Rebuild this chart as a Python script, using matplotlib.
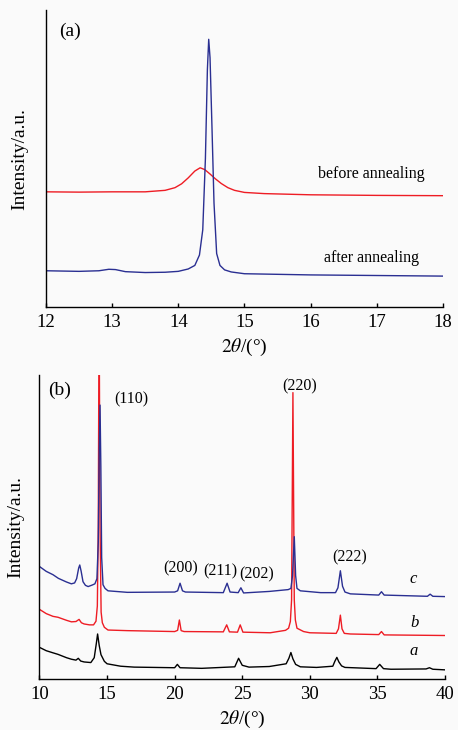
import numpy as np
import matplotlib
matplotlib.use('Agg')
import matplotlib.pyplot as plt

plt.rcParams['font.family'] = ['Liberation Serif', 'DejaVu Serif']
plt.rcParams['mathtext.fontset'] = 'stix'

# ---- panel (a): 12-18 deg, before / after annealing
a_before_x = [12.0, 12.5, 13.0, 13.5, 13.8, 13.95, 14.05, 14.15, 14.25, 14.33, 14.40,
              14.48, 14.56, 14.65, 14.75, 14.85, 15.0, 15.3, 16.0, 17.0, 18.0]
a_before_y = [38.8, 38.7, 38.8, 38.8, 39.3, 40.2, 41.5, 43.5, 45.8, 46.9, 46.3,
              44.8, 43.2, 41.6, 40.2, 39.3, 38.6, 38.2, 37.8, 37.6, 37.5]

a_after_x = [12.0, 12.5, 12.8, 12.95, 13.05, 13.2, 13.5, 13.8, 14.0, 14.15, 14.25, 14.32,
             14.37, 14.41, 14.44, 14.46, 14.48, 14.51, 14.54, 14.58, 14.63, 14.7, 14.8,
             15.0, 15.5, 16.0, 17.0, 18.0]
a_after_y = [12.2, 12.0, 12.2, 12.7, 12.6, 11.9, 11.6, 11.7, 12.0, 12.8, 14.0, 17.5,
             26.0, 50.0, 80.0, 90.2, 84.0, 60.0, 35.0, 18.0, 14.0, 12.5, 11.8,
             11.2, 11.0, 10.8, 10.6, 10.4]

# ---- panel (b): 10-40 deg, samples a, b, c
c_x = [10.0, 10.5, 11.0, 11.4, 12.0, 12.36, 12.6, 12.75, 12.9, 12.98, 13.08, 13.22, 13.4,
       13.6, 13.9, 14.1, 14.25, 14.35, 14.42, 14.48, 14.54, 14.6, 14.7, 14.85, 15.07,
       16.5, 20.0, 20.22, 20.4, 20.58, 20.8, 23.6, 23.88, 24.1, 24.7, 24.9, 25.1, 27.0,
       28.4, 28.6, 28.72, 28.85, 28.95, 29.05, 29.3, 30.8, 31.9, 32.08, 32.26, 32.42,
       32.6, 33.0, 35.1, 35.3, 35.5, 38.7, 38.9, 39.1, 40.0]
c_y = [37.0, 35.4, 34.3, 33.1, 31.9, 31.3, 31.6, 33.0, 36.5, 37.5, 35.5, 32.0, 30.8,
       30.4, 30.9, 31.3, 33.0, 45.0, 75.0, 90.1, 70.0, 40.0, 31.0, 29.8, 29.0,
       28.5, 28.6, 29.0, 31.5, 29.0, 28.6, 28.4, 31.5, 28.6, 28.4, 30.0, 28.3, 28.8,
       29.4, 29.8, 34.0, 46.8, 34.0, 29.8, 29.0, 28.4, 28.4, 30.0, 35.6, 30.5,
       28.6, 28.0, 27.6, 28.7, 27.6, 27.2, 27.9, 27.2, 27.1]

b_x = [10.0, 10.5, 11.0, 11.37, 12.0, 12.36, 12.7, 12.93, 13.1, 13.3, 13.7, 14.0, 14.18,
       14.28, 14.35, 14.41, 14.48, 14.56, 14.65, 14.8, 15.07, 16.5, 20.0, 20.22, 20.35,
       20.48, 20.7, 23.6, 23.85, 24.05, 24.65, 24.85, 25.05, 27.07, 28.2, 28.43, 28.56,
       28.65, 28.75, 28.85, 28.93, 29.05, 29.54, 30.0, 31.95, 32.12, 32.26, 32.38, 32.55,
       33.0, 35.1, 35.3, 35.5, 40.0]
b_y = [22.9, 21.5, 20.6, 20.3, 19.3, 18.8, 18.9, 19.6, 18.5, 18.1, 17.8, 17.8, 19.0,
       24.0, 50.0, 125.0, 50.0, 22.0, 18.5, 17.0, 16.1, 15.9, 15.6, 16.0, 19.4,
       15.9, 15.6, 15.5, 17.8, 15.5, 15.4, 17.8, 15.4, 15.2, 16.0, 16.7, 18.9,
       26.0, 94.2, 26.0, 19.4, 16.7, 15.6, 15.2, 15.0, 16.5, 21.0, 16.5, 15.0,
       14.8, 14.6, 15.6, 14.5, 14.3]

a_x = [10.0, 10.5, 11.0, 11.37, 12.0, 12.36, 12.7, 12.87, 13.05, 13.3, 13.8, 14.05, 14.2,
       14.3, 14.42, 14.55, 14.8, 15.0, 16.0, 17.0, 20.0, 20.2, 20.4, 22.0, 24.45, 24.73,
       25.0, 25.5, 27.0, 28.25, 28.45, 28.6, 28.75, 28.95, 29.3, 30.5, 31.7, 31.85, 32.0,
       32.15, 32.35, 32.6, 34.9, 35.17, 35.45, 36.0, 38.6, 38.85, 39.1, 40.0]
a_y = [10.4, 9.3, 8.6, 8.1, 7.0, 6.5, 6.2, 6.8, 5.9, 5.6, 5.4, 7.0, 11.5,
       14.8, 11.0, 8.0, 5.8, 5.0, 4.2, 3.9, 3.7, 4.8, 3.7, 3.5, 4.0, 6.8,
       4.5, 3.9, 4.1, 5.0, 6.8, 8.7, 6.6, 4.8, 4.0, 3.8, 4.2, 5.8, 7.1,
       5.6, 4.3, 3.8, 3.4, 4.8, 3.4, 3.2, 3.3, 3.7, 3.2, 3.0]

blue = '#2a2f92'
red = '#ee1c24'

fig = plt.figure(figsize=(4.58, 7.30), dpi=100, facecolor='#fafafa')
ax1 = fig.add_axes([0.1004, 0.5795, 0.8666, 0.4065])
ax2 = fig.add_axes([0.0862, 0.0699, 0.8854, 0.4164])

for ax in (ax1, ax2):
    ax.set_facecolor('#fafafa')
    ax.spines['top'].set_visible(False)
    ax.spines['right'].set_visible(False)
    ax.spines['left'].set_linewidth(1.0)
    ax.spines['bottom'].set_linewidth(1.0)
    ax.set_yticks([])
    ax.tick_params(axis='x', direction='in', length=3, width=1.0, pad=5, labelsize=13.5)
    ax.set_ylabel('Intensity/a.u.', fontsize=14)
    ax.set_xlabel('$2\\theta$/(°)', fontsize=14, labelpad=4)

# panel (a)
ax1.plot(a_before_x, a_before_y, color=red, lw=1.0)
ax1.plot(a_after_x, a_after_y, color=blue, lw=1.0)
ax1.set_xlim(12, 18)
ax1.set_ylim(0, 100)
ax1.set_xticks(np.arange(12, 19, 1))
ax1.yaxis.set_label_coords(-0.045, 0.5)
ax1.text(12.36, 92.9, '(a)', fontsize=14, ha='center', va='center')
ax1.text(16.92, 44.8, 'before annealing', fontsize=11.5, ha='center', va='center')
ax1.text(16.92, 16.5, 'after annealing', fontsize=11.5, ha='center', va='center')

# panel (b)
ax2.plot(a_x, a_y, color='black', lw=1.0)
ax2.plot(b_x, b_y, color=red, lw=1.0)
ax2.plot(c_x, c_y, color=blue, lw=1.0)
ax2.set_xlim(10, 40)
ax2.set_ylim(0, 100)
ax2.set_xticks(np.arange(10, 41, 5))
ax2.yaxis.set_label_coords(-0.038, 0.5)
ax2.text(11.48, 95.1, '(b)', fontsize=14, ha='center', va='center')
peaks = [('(110)', 16.78, 92.1), ('(220)', 29.22, 96.1), ('(200)', 20.41, 36.5),
         ('(211)', 23.37, 35.5), ('(202)', 26.04, 34.5), ('(222)', 32.93, 40.1)]
for lab, px, py in peaks:
    ax2.text(px, py, lab, fontsize=11.5, ha='center', va='center')
for lab, px, py in [('c', 37.66, 32.9), ('b', 37.74, 18.4), ('a', 37.66, 9.2)]:
    ax2.text(px, py, lab, fontsize=12, style='italic', ha='center', va='center')

fig.savefig('out.png', dpi=100, facecolor=fig.get_facecolor())
